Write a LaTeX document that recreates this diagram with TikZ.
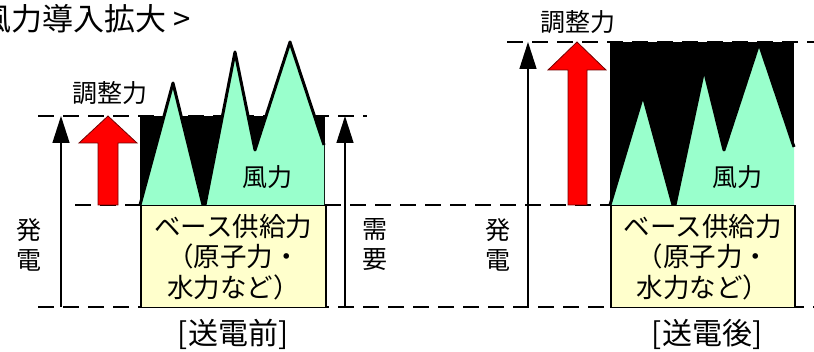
\documentclass[tikz,border=0pt]{standalone}
\usepackage{fontspec}
\setmainfont{Noto Sans CJK JP}
\usetikzlibrary{arrows.meta}
\definecolor{windgreen}{RGB}{153,255,204}
\definecolor{baseyellow}{RGB}{255,255,204}
\definecolor{arrowred}{RGB}{255,0,0}
\begin{document}
\begin{tikzpicture}[x=1pt,y=-1pt,
  guide/.style={line width=2.5pt, dash pattern=on 16pt off 9pt},
  genarrow/.style={line width=1.5pt, -{Triangle[length=27pt,width=17pt]}},
  windfill/.style={fill=windgreen},
  windedge/.style={line width=3pt, line join=round},
  basebox/.style={draw=black, line width=1.5pt, fill=baseyellow, minimum width=185pt, minimum height=102pt, anchor=north west, align=center, inner sep=0pt, font=\fontsize{26.5}{30.5}\selectfont},
  adjarrow/.style={fill=arrowred, draw=red!45!black, line width=0.8pt},
  lbl/.style={inner sep=0pt, align=center, font=\fontsize{25}{30}\selectfont},
  caption/.style={inner sep=0pt, font=\fontsize{30}{32}\selectfont},
  headline/.style={inner sep=0pt, font=\fontsize{31}{33}\selectfont}
]
\useasboundingbox (0,0) rectangle (814,352);

% title (partly cut at left edge, as in the reference)
\node[headline, anchor=west] (title) at (-20,19) {風力導入拡大 >};

% guide lines
\draw[guide] (38,116) -- (367,116);
\draw[guide] (75,205) -- (610,205);
\draw[guide] (38,307) -- (814,307);
\draw[guide] (507,42) -- (814,42);

% ---------- left panel ----------
\fill[black] (140,116) rectangle (325,205);
\fill[windfill] (140,205) -- (173,83) -- (203,205) -- cycle;
\fill[windfill] (205,205) -- (235,52) -- (255,150) -- (290,42) -- (324,145) -- (324,205) -- cycle;
\draw[windedge] (140,205) -- (173,83) -- (203,205);
\draw[windedge] (205,205) -- (235,52) -- (255,150) -- (290,42) -- (324,145);
\node[basebox] (baseL) at (140,205) {ベース供給力\\（原子力・\\水力など）};
\node[lbl] (windL) at (267,177) {風力};

\coordinate (genLbot) at (61,307);
\coordinate (genLtop) at (61,116);
\draw[genarrow] (genLbot) -- (genLtop);
\node[lbl] (genL) at (29,245) {発\\電};

\coordinate (demLbot) at (345,307);
\coordinate (demLtop) at (345,116);
\draw[genarrow] (demLbot) -- (demLtop);
\node[lbl] (demL) at (375,245) {需\\要};

\draw[adjarrow] (98,205) -- (98,143) -- (79,143) -- (108,116) -- (137,143) -- (118,143) -- (118,205) -- cycle;
\node[lbl] (adjL) at (110,93) {調整力};

\node[caption] (capL) at (233,334) {[送電前]};

% ---------- right panel ----------
\fill[black] (610,42) rectangle (794,205);
\fill[windfill] (610,205) -- (643,95) -- (673,205) -- cycle;
\fill[windfill] (675,205) -- (704,69) -- (724,150) -- (759,43) -- (794,147) -- (794,205) -- cycle;
\draw[windedge] (610,205) -- (643,95) -- (673,205);
\draw[windedge] (675,205) -- (704,69) -- (724,150) -- (759,43) -- (794,147);
\node[basebox, minimum width=184pt] (baseR) at (610,205) {ベース供給力\\（原子力・\\水力など）};
\node[lbl] (windR) at (737,177) {風力};

\coordinate (genRbot) at (528,307);
\coordinate (genRtop) at (528,42);
\draw[genarrow] (genRbot) -- (genRtop);
\node[lbl] (genR) at (498,245) {発\\電};

\draw[adjarrow] (568,205) -- (568,70) -- (548,70) -- (577,42) -- (606,70) -- (587,70) -- (587,205) -- cycle;
\node[lbl] (adjR) at (578,22) {調整力};

\node[caption] (capR) at (707,334) {[送電後]};
\end{tikzpicture}
\end{document}
